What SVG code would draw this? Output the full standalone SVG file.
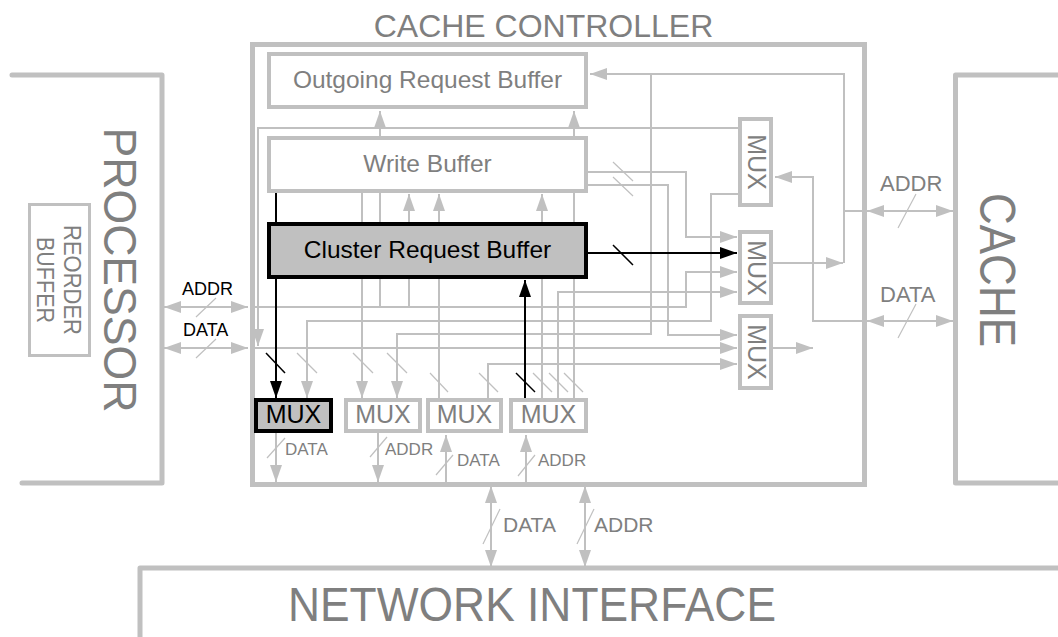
<svg xmlns="http://www.w3.org/2000/svg" width="1058" height="637" viewBox="0 0 1058 637">
  <style>
    .frame { fill: none; stroke: #c0c0c0; stroke-width: 5; stroke-linejoin: round; stroke-linecap: round; }
    .box { fill: #ffffff; stroke: #c0c0c0; stroke-width: 4; }
    .boxk { fill: #c0c0c0; stroke: #000000; stroke-width: 4; }
    .w { fill: none; stroke: #c0c0c0; stroke-width: 2; }
    .wk { fill: none; stroke: #000000; stroke-width: 2; }
    .a { marker-end: url(#ag); }
    .ak { marker-end: url(#ab); }
    .aa { marker-start: url(#ag); marker-end: url(#ag); }
    .sl { stroke: #c0c0c0; stroke-width: 1.2; }
    .slk { stroke: #000000; stroke-width: 1.5; }
    text { font-family: "Liberation Sans", Arial, sans-serif; fill: #7f7f7f; }
    .big { font-size: 24.5px; text-anchor: middle; }
    .mux { font-size: 25px; text-anchor: middle; }
    .k { fill: #000000; }
  </style>
  <defs>
    <marker id="ag" viewBox="0 0 17 12" markerWidth="17" markerHeight="12" refX="17" refY="6" orient="auto-start-reverse" markerUnits="userSpaceOnUse">
      <path d="M0,0 L17,6 L0,12 z" fill="#c0c0c0"/>
    </marker>
    <marker id="ab" viewBox="0 0 17 12" markerWidth="17" markerHeight="12" refX="17" refY="6" orient="auto-start-reverse" markerUnits="userSpaceOnUse">
      <path d="M0,0 L17,6 L0,12 z" fill="#000000"/>
    </marker>
  </defs>

  <!-- external blocks -->
  <g id="processor">
    <path class="frame" d="M12,75 H162 V483 H22"/>
    <text transform="translate(104,270) rotate(90)" font-size="46" text-anchor="middle" textLength="285" lengthAdjust="spacingAndGlyphs">PROCESSOR</text>
  </g>
  <g id="reorder-buffer">
    <rect x="29.5" y="204.5" width="60" height="151" fill="none" stroke="#c0c0c0" stroke-width="3"/>
    <text transform="translate(64,280) rotate(90)" font-size="24" text-anchor="middle" textLength="110" lengthAdjust="spacingAndGlyphs">REORDER</text>
    <text transform="translate(37,280) rotate(90)" font-size="24" text-anchor="middle" textLength="86" lengthAdjust="spacingAndGlyphs">BUFFER</text>
  </g>
  <g id="cache">
    <path class="frame" d="M1060,75 H955.5 V483 H1060"/>
    <text transform="translate(980,270) rotate(90)" font-size="50" text-anchor="middle" textLength="154" lengthAdjust="spacingAndGlyphs">CACHE</text>
  </g>
  <g id="network-interface">
    <path class="frame" d="M140,640 V568 H1060"/>
    <text x="288" y="621" font-size="48" textLength="488" lengthAdjust="spacingAndGlyphs">NETWORK INTERFACE</text>
  </g>

  <!-- connectors -->
  <g id="connectors">
    <!-- processor ports -->
    <path class="w aa" d="M164,307 H248"/>
    <path class="w aa" d="M164,348 H248"/>
    <!-- cache ports -->
    <path class="w" d="M844,211 H866"/>
    <path class="w aa" d="M867,211 H953"/>
    <path class="w aa" d="M867,321 H953"/>
    <!-- network ports -->
    <path class="w aa" d="M491,486 V567"/>
    <path class="w aa" d="M585,486 V567"/>

    <!-- address bus out of the right mux -->
    <path class="w a" d="M773,263 H843"/>
    <path class="w a" d="M844,263 V74 H590"/>
    <path class="w a" d="M651,74 V334 H397 V398"/>
    <!-- data from cache into upper mux -->
    <path class="w a" d="M866,321 H813 V177 H775"/>
    <path class="w a" d="M773,348 H813"/>
    <!-- upper mux outputs -->
    <path class="w a" d="M738,128 H258 V346"/>
    <path class="w a" d="M738,194 H711 V321 H307 V398"/>
    <!-- write buffer outputs -->
    <path class="w a" d="M588,172 H686 V237 H737"/>
    <path class="w a" d="M588,185 H668 V335 H737"/>
    <!-- processor address / data -->
    <path class="w a" d="M250,307 H686 V272 H737"/>
    <path class="w a" d="M250,348 H737"/>
    <path class="w a" d="M380,307 V111"/>
    <path class="w a" d="M409,307 V194"/>
    <!-- bottom mux links -->
    <path class="w a" d="M362,193 V398"/>
    <path class="w a" d="M439,398 V194"/>
    <path class="w a" d="M488,398 V364 H737"/>
    <path class="w a" d="M542,398 V194"/>
    <path class="w a" d="M558,398 V292 H737"/>
    <path class="w a" d="M574,398 V111"/>
    <!-- cluster request buffer paths -->
    <path class="wk ak" d="M276,193 V398"/>
    <path class="wk ak" d="M525,398 V280"/>
    <path class="wk ak" d="M588,253 H737"/>
    <!-- bottom mux to network -->
    <path class="w a" d="M276,433 V482"/>
    <path class="w a" d="M378,433 V482"/>
    <path class="w a" d="M446,482 V435"/>
    <path class="w a" d="M526,482 V435"/>

    <!-- bus width marks -->
    <line class="sl" x1="196" y1="317" x2="216" y2="298"/>
    <line class="sl" x1="196" y1="358" x2="216" y2="339"/>
    <line class="sl" x1="898" y1="228" x2="916" y2="194"/>
    <line class="sl" x1="898" y1="338" x2="916" y2="304"/>
    <line class="sl" x1="483" y1="544" x2="500" y2="509"/>
    <line class="sl" x1="577" y1="544" x2="594" y2="509"/>
    <line class="sl" x1="267" y1="458" x2="285" y2="438"/>
    <line class="sl" x1="370" y1="457" x2="387" y2="437"/>
    <line class="sl" x1="436" y1="475" x2="453" y2="455"/>
    <line class="sl" x1="518" y1="476" x2="535" y2="455"/>
    <line class="sl" x1="613" y1="162" x2="633" y2="181"/>
    <line class="sl" x1="613" y1="177" x2="633" y2="196"/>
    <line class="slk" x1="613" y1="245" x2="633" y2="265"/>
    <line class="slk" x1="266" y1="353" x2="285" y2="373"/>
    <line class="sl" x1="297" y1="353" x2="317" y2="373"/>
    <line class="sl" x1="353" y1="353" x2="373" y2="373"/>
    <line class="sl" x1="387" y1="353" x2="407" y2="373"/>
    <line class="sl" x1="430" y1="373" x2="448" y2="392"/>
    <line class="sl" x1="479" y1="373" x2="498" y2="392"/>
    <line class="slk" x1="516" y1="373" x2="535" y2="392"/>
    <line class="sl" x1="533" y1="373" x2="552" y2="392"/>
    <line class="sl" x1="549" y1="373" x2="568" y2="392"/>
    <line class="sl" x1="564" y1="373" x2="583" y2="392"/>

    <!-- bus labels -->
    <text class="k" x="182" y="295" font-size="18">ADDR</text>
    <text class="k" x="183" y="336" font-size="18">DATA</text>
    <text x="880" y="191" font-size="22">ADDR</text>
    <text x="880" y="302" font-size="22">DATA</text>
    <text x="503" y="532" font-size="21">DATA</text>
    <text x="594" y="532" font-size="21">ADDR</text>
    <text x="285" y="455" font-size="17">DATA</text>
    <text x="385" y="455" font-size="17">ADDR</text>
    <text x="457" y="466" font-size="17">DATA</text>
    <text x="538" y="466" font-size="17">ADDR</text>
  </g>

  <!-- cache controller -->
  <g id="cache-controller">
    <rect x="252.5" y="44.5" width="612" height="440" fill="none" stroke="#c0c0c0" stroke-width="5"/>
    <text x="543.5" y="37" font-size="32" text-anchor="middle">CACHE CONTROLLER</text>
  </g>
  <g id="outgoing-request-buffer">
    <rect class="box" x="269" y="54" width="317" height="53"/>
    <text class="big" x="427.5" y="88">Outgoing Request Buffer</text>
  </g>
  <g id="write-buffer">
    <rect class="box" x="269" y="138" width="317" height="53"/>
    <text class="big" x="427.5" y="172">Write Buffer</text>
  </g>
  <g id="cluster-request-buffer">
    <rect class="boxk" x="269" y="224" width="317" height="53"/>
    <text class="big k" x="427.5" y="258">Cluster Request Buffer</text>
  </g>
  <g id="mux-a">
    <rect class="box" x="740" y="119" width="31" height="86"/>
    <text class="mux" transform="translate(748,162) rotate(90)">MUX</text>
  </g>
  <g id="mux-b">
    <rect class="box" x="740" y="232" width="31" height="71"/>
    <text class="mux" transform="translate(748,268) rotate(90)">MUX</text>
  </g>
  <g id="mux-c">
    <rect class="box" x="740" y="316" width="31" height="72"/>
    <text class="mux" transform="translate(748,352) rotate(90)">MUX</text>
  </g>
  <g id="mux-1">
    <rect class="boxk" x="256" y="400" width="75" height="31"/>
    <text class="mux k" x="293.5" y="423">MUX</text>
  </g>
  <g id="mux-2">
    <rect class="box" x="346" y="400" width="74" height="31"/>
    <text class="mux" x="383" y="423">MUX</text>
  </g>
  <g id="mux-3">
    <rect class="box" x="428" y="400" width="73" height="31"/>
    <text class="mux" x="464.5" y="423">MUX</text>
  </g>
  <g id="mux-4">
    <rect class="box" x="511" y="400" width="75" height="31"/>
    <text class="mux" x="548.5" y="423">MUX</text>
  </g>
</svg>
